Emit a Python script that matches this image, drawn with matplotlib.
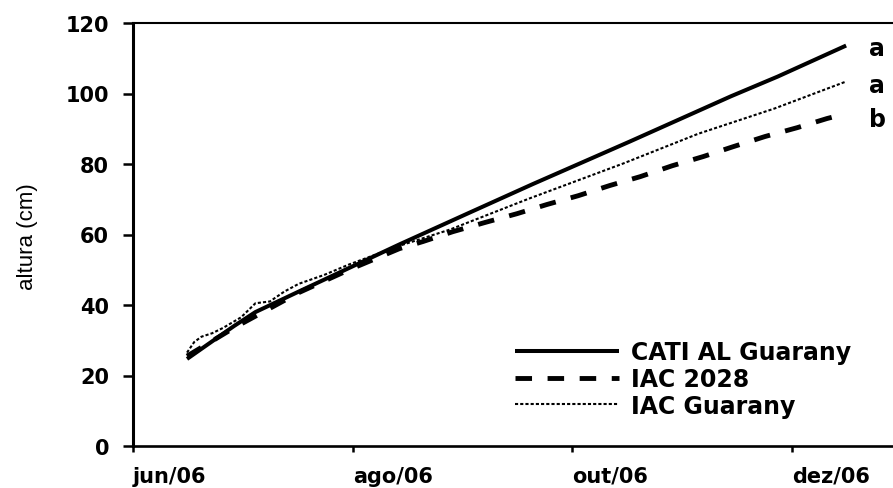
import matplotlib
matplotlib.use("Agg")
import matplotlib.pyplot as plt
from matplotlib import font_manager
from matplotlib.transforms import ScaledTranslation

# ---- data (x = days since 1 Jun 2006) ----
tick_days = [0, 61, 122, 183]
tick_labels = ["jun/06", "ago/06", "out/06", "dez/06"]
y_ticks = [0, 20, 40, 60, 80, 100, 120]

cati_days = [15, 28, 34, 46, 60, 74, 93, 111, 138, 166, 179, 198]
cati_vals = [24.7, 34.0, 38.0, 43.8, 50.5, 57.2, 66.0, 74.3, 86.4, 99.2, 104.8, 113.6]

iac2028_days = [15, 28, 46, 60, 74, 80.5, 88.8, 97.7, 106.6, 114.9, 123.6, 132.4,
                140.8, 149.7, 158.3, 166.6, 175.5, 184.4, 192.7, 198]
iac2028_vals = [25.5, 33.5, 43.5, 50.0, 56.0, 58.0, 60.8, 63.4, 65.9, 68.5, 71.0, 73.9,
                76.4, 79.5, 82.1, 84.9, 87.8, 90.3, 92.9, 94.3]

guarany_days = [15, 17, 19, 22, 25, 30, 34, 38, 42, 46, 53, 60, 74, 88, 110, 136, 157, 178, 198]
guarany_vals = [26.5, 29.5, 31.0, 32.0, 33.5, 36.5, 40.5, 41.0, 43.8, 46.0, 48.5, 51.5,
                56.8, 61.4, 70.2, 80.1, 88.6, 95.7, 103.4]

series_names = ["CATI AL Guarany", "IAC 2028", "IAC Guarany"]
letters = ["a", "b", "a"]

# ---- fonts ----
avail = {f.name for f in font_manager.fontManager.ttflist}
bold_font = "DejaVu Sans"
if "Liberation Sans Narrow" in avail:
    ylab_family, ylab_size = "Liberation Sans Narrow", 18.5
else:
    ylab_family, ylab_size = "Liberation Sans", 16

W, H = 893, 489
fig = plt.figure(figsize=(W / 100, H / 100), dpi=100)
ax = fig.add_axes([133 / W, 42 / H, (905 - 133) / W, 423 / H])

ax.plot(cati_days, cati_vals, color="black", lw=2.9, solid_capstyle="butt",
        label=series_names[0])
ax.plot(iac2028_days, iac2028_vals, color="black", lw=3.5, dashes=(3.4, 3.2),
        dash_capstyle="butt", label=series_names[1])
ax.plot(guarany_days, guarany_vals, color="black", lw=1.5, linestyle=(0, (1.5, 1.0)),
        label=series_names[2])

ax.set_xlim(0, (905 - 133) / 3.6016)
ax.set_ylim(0, 120)

ax.set_yticks(y_ticks)
ax.set_yticklabels([str(v) for v in y_ticks], fontsize=15, fontweight="bold",
                   family=bold_font)
ax.set_xticks(tick_days)
ax.set_xticklabels(tick_labels, fontsize=15, fontweight="bold", family=bold_font,
                   ha="left")
off = ScaledTranslation(9 / 100, 0, fig.dpi_scale_trans)
for lab in ax.get_xticklabels():
    lab.set_transform(lab.get_transform() + off)

ax.tick_params(axis="y", direction="out", length=7.2, width=1.8, pad=10, colors="black")
ax.tick_params(axis="x", direction="out", length=4.3, width=1.8, pad=10, colors="black")

ax.spines["left"].set_linewidth(2.2)
ax.spines["bottom"].set_linewidth(1.9)
ax.spines["top"].set_linewidth(1.5)
ax.spines["right"].set_linewidth(1.5)

fig.text(27 / W, 1 - 237 / H, "altura (cm)", rotation=90, ha="center", va="center",
         fontsize=ylab_size, family=ylab_family)

# significance letters next to the end of each series
ends = [(cati_days[-1], cati_vals[-1], letters[0], -7.0),
        (iac2028_days[-1], iac2028_vals[-1], letters[1], -8.7),
        (guarany_days[-1], guarany_vals[-1], letters[2], -7.8)]
for xd, yv, let, dy in ends:
    ax.annotate(let, xy=(xd, yv), xytext=(16.6, dy), textcoords="offset points",
                ha="left", va="baseline", fontsize=17, fontweight="bold",
                family=bold_font, annotation_clip=False)

leg = ax.legend(loc="upper left", bbox_to_anchor=(515 / W, 1 - 341 / H),
                bbox_transform=fig.transFigure, frameon=False,
                prop={"family": bold_font, "weight": "bold", "size": 17},
                handlelength=4.4, handletextpad=0.5, labelspacing=0.12,
                borderpad=0, borderaxespad=0)

fig.savefig("out.png", dpi=100)
